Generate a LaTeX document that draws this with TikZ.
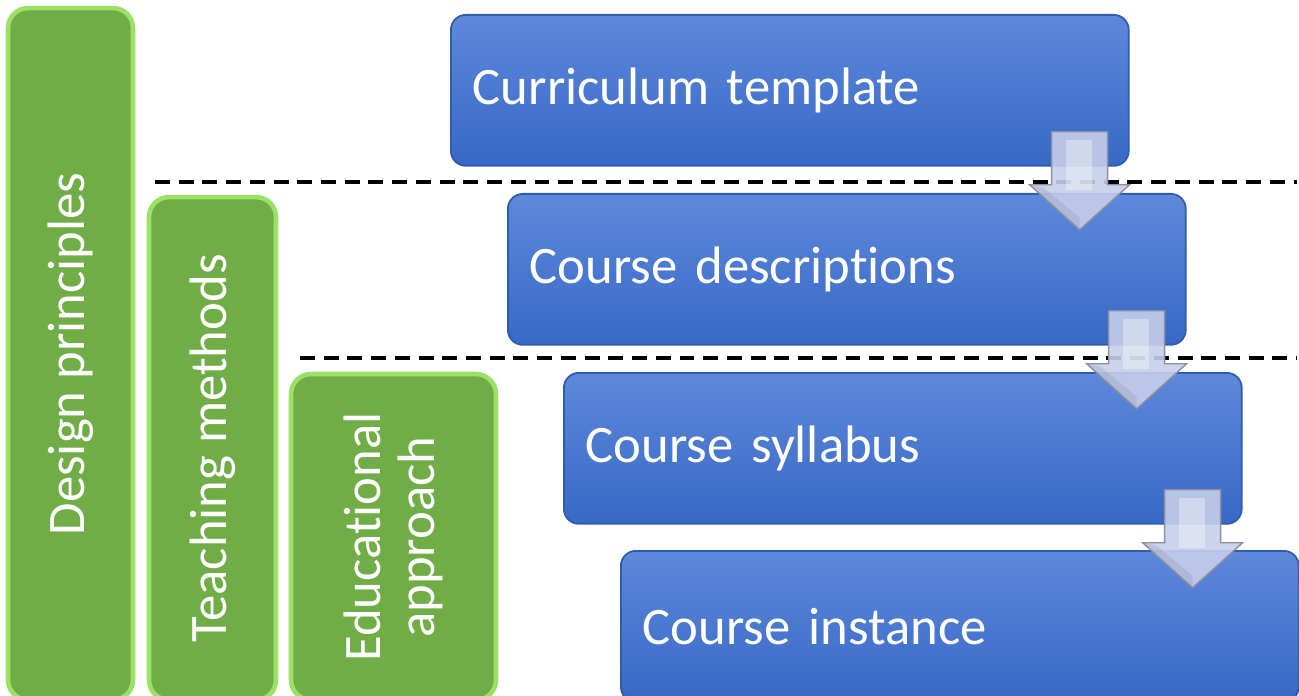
\documentclass[tikz,border=0pt]{standalone}
\usepackage{fontspec}
\setmainfont{Carlito}[Ligatures={NoCommon,NoContextual,NoRare}]
\usepackage{tikz}
\usetikzlibrary{calc,positioning,shapes}
\definecolor{greenfill}{HTML}{70AD47}
\definecolor{greenedge}{HTML}{9CE066}
\definecolor{bluetop}{HTML}{5D89DA}
\definecolor{bluebot}{HTML}{3868C6}
\definecolor{blueedge}{HTML}{2F5CAE}
\definecolor{flowfill}{HTML}{C6CEEA}
\definecolor{flowedge}{HTML}{8D90A2}
\tikzset{%
	pillar/.style  = {draw=greenedge, line width=2.6pt, fill=greenfill, rounded corners=0.4cm, rotate=90, text=white, align=center, font=\fontsize{30}{31}\selectfont, inner sep=0pt}, % Green columns
	stage/.style   = {draw=blueedge, line width=1pt, top color=bluetop, bottom color=bluebot, rounded corners=0.3cm, anchor=north west, minimum height=3.02cm, text width=12.68cm, inner xsep=0.44cm, align=left, text=white, font=\fontsize{30}{31}\selectfont}, % Blue levels
	divider/.style = {line width=2.4pt, dash pattern=on 8.5pt off 5pt}, % Dashed lines
	flow/.style    = {draw=flowedge, line width=0.8pt, fill=flowfill, fill opacity=0.9, line join=miter}, % Block arrows
}

\begin{document}
\begin{tikzpicture}[x=0.02cm,y=-0.02cm]
	\useasboundingbox (0,0) rectangle (1299,696);
	\clip (0,0) rectangle (1299,696);
	
	\node [pillar, minimum width=13.84cm, minimum height=2.5cm] (dp) at (70.5,354) {Design principles};
	\node [pillar, minimum width=10.06cm, minimum height=2.54cm] (tm) at (212.5,448.5) {Teaching methods};
	\node [pillar, minimum width=6.52cm, minimum height=4.1cm] (ea) at (393.5,537) {Educational\\approach};
	
	\node [stage] (ct) at (450,14) {Curriculum template};
	\node [stage] (cd) at (507,193) {Course descriptions};
	\node [stage] (cs) at (563,372) {Course syllabus};
	\node [stage] (ci) at (620,550) {Course instance};
	
	\draw [divider] (155,182) -- (1297,182);
	\draw [divider] (300,358) -- (1297,358);
	
	\foreach \a in {ct,cd,cs} {
		\begin{scope}[shift={($(\a.south east)+(-50,-35)$)}]
			\draw [flow] (-28,0) -- (28,0) -- (28,53) -- (50,53) -- (0,98) -- (-50,53) -- (-28,53) -- cycle;
			\fill [white, opacity=0.35] (-14,8) rectangle (12,58);
			\fill [flowedge, opacity=0.25] (-50,53) -- (0,98) -- (0,86) -- (-36,56) -- cycle;
		\end{scope}
	}
\end{tikzpicture}
\end{document}
